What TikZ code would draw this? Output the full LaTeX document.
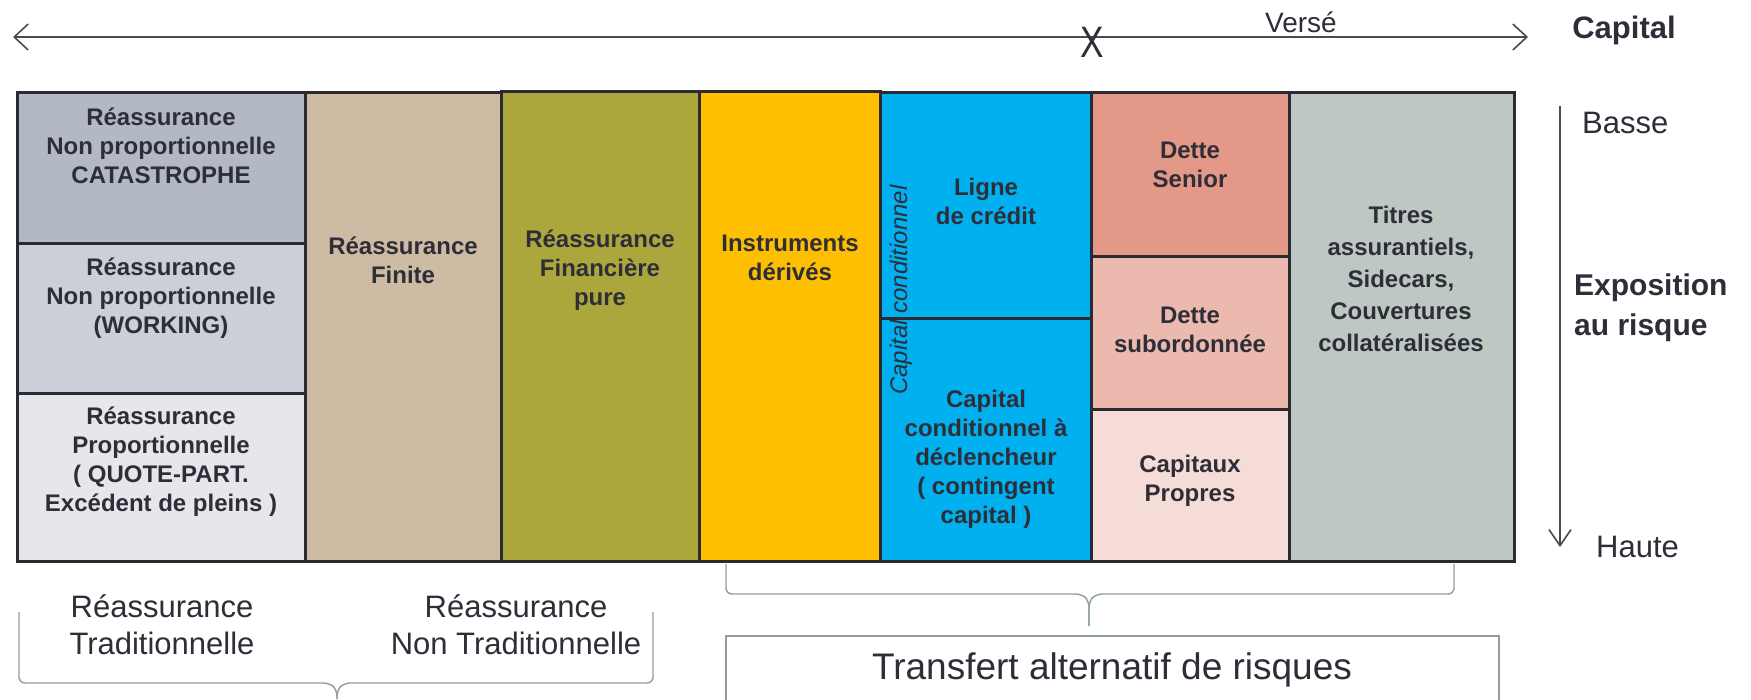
\documentclass[tikz,border=0pt]{standalone}
\usepackage{fontspec}
\setmainfont{Liberation Sans}
\usetikzlibrary{arrows.meta}
\definecolor{bordc}{HTML}{2A2A33}
\definecolor{txtc}{HTML}{2E2E38}
\definecolor{cA}{HTML}{B2B9C4}
\definecolor{cB}{HTML}{CBD0D8}
\definecolor{cC}{HTML}{E6E7EB}
\definecolor{cfin}{HTML}{CEBBA3}
\definecolor{coli}{HTML}{ABA73C}
\definecolor{cyel}{HTML}{FDBF00}
\definecolor{cblu}{HTML}{00B0EF}
\definecolor{cds}{HTML}{E49888}
\definecolor{csub}{HTML}{ECB9AE}
\definecolor{ccp}{HTML}{F6DCD6}
\definecolor{ctit}{HTML}{BEC8C2}
\definecolor{brc}{HTML}{8FA096}
\definecolor{arc}{HTML}{4A4A52}
\begin{document}
\begin{tikzpicture}[x=1pt,y=-1pt,
  cell/.style={draw=bordc, line width=3pt},
  lbl/.style={text=txtc, font=\bfseries\fontsize{24}{29}\selectfont, align=center, inner sep=0pt},
  plain/.style={text=txtc, font=\fontsize{31}{37}\selectfont, align=center, inner sep=0pt},
  side/.style={text=txtc, font=\fontsize{31}{37}\selectfont, align=left, inner sep=0pt, anchor=west},
  brace/.style={draw=brc, line width=1.4pt, rounded corners=6pt},
  axis/.style={draw=arc, line width=1.6pt}]
\useasboundingbox[fill=white] (0,0) rectangle (1751,699);

% cells
\path[cell, fill=cA] (17,92) rectangle (305,243);
\path[cell, fill=cB] (17,243) rectangle (305,393);
\path[cell, fill=cC] (17,393) rectangle (305,561);
\path[cell, fill=cfin] (305,92) rectangle (501,561);
\path[cell, fill=coli] (501,91) rectangle (699,561);
\path[cell, fill=cyel] (699,91) rectangle (880,561);
\path[cell, fill=cblu] (880,92) rectangle (1091,318);
\path[cell, fill=cblu] (880,318) rectangle (1091,561);
\path[cell, fill=cds] (1091,92) rectangle (1289,256);
\path[cell, fill=csub] (1091,256) rectangle (1289,409);
\path[cell, fill=ccp] (1091,409) rectangle (1289,561);
\path[cell, fill=ctit] (1289,92) rectangle (1514,561);

% cell texts
\node[lbl] (t1) at (161,146) {Réassurance\\Non proportionnelle\\CATASTROPHE};
\node[lbl] (t2) at (161,298) {Réassurance\\Non proportionnelle\\(WORKING)};
\node[lbl] (t3) at (161,462) {Réassurance\\Proportionnelle\\( QUOTE-PART.\\Excédent de pleins )};
\node[lbl] (t4) at (403,260) {Réassurance\\Finite};
\node[lbl] (t5) at (600,270) {Réassurance\\Financière\\pure};
\node[lbl] (t6) at (790,258) {Instruments\\dérivés};
\node[lbl] (t7) at (986,201) {Ligne\\de crédit};
\node[lbl] (t8) at (986,459) {Capital\\conditionnel à\\déclencheur\\( contingent\\capital )};
\node[text=txtc, font=\itshape\fontsize{24}{29}\selectfont, inner sep=0pt, rotate=90] (t9) at (901,290) {Capital conditionnel};
\node[lbl] (t10) at (1190,165) {Dette\\Senior};
\node[lbl] (t11) at (1190,330) {Dette\\subordonnée};
\node[lbl] (t12) at (1190,481) {Capitaux\\Propres};
\node[lbl, font=\bfseries\fontsize{24}{32}\selectfont] (t13) at (1401,279) {Titres\\assurantiels,\\Sidecars,\\Couvertures\\collatéralisées};

% top axis
\coordinate (aL) at (13,37);
\coordinate (aR) at (1528,37);
\draw[axis, {Straight Barb[length=14pt,width=26pt,line width=1.6pt]}-{Straight Barb[length=14pt,width=26pt,line width=1.6pt]}] (aL) -- (aR);
\node[text=txtc, font=\fontsize{44}{44}\selectfont, inner sep=0pt, xscale=0.8] (xm) at (1092,42) {X};
\node[text=txtc, font=\fontsize{28}{30}\selectfont, inner sep=0pt] (verse) at (1301,22) {Versé};
\node[text=txtc, font=\bfseries\fontsize{31}{34}\selectfont, inner sep=0pt] (capital) at (1624,30) {Capital};

% right axis
\coordinate (dT) at (1560,106);
\coordinate (dB) at (1560,547);
\draw[axis, -{Straight Barb[length=16pt,width=22pt,line width=1.6pt]}] (dT) -- (dB);
\node[side] (basse) at (1582,123) {Basse};
\node[side, font=\bfseries\fontsize{30}{40}\selectfont] (expo) at (1574,308) {Exposition\\au risque};
\node[side] (haute) at (1596,547) {Haute};

% bottom braces
\coordinate (lb1) at (19,612);
\coordinate (lb2) at (653,612);
\coordinate (lbt) at (337,699);
\draw[brace] (lb1) -- (19,683) -- (330,683) -- (337,690) -- (lbt);
\draw[brace] (lb2) -- (653,683) -- (344,683) -- (337,690) -- (lbt);
\node[plain] (trad) at (162,625) {Réassurance\\Traditionnelle};
\node[plain] (ntrad) at (516,625) {Réassurance\\Non Traditionnelle};

\coordinate (rb1) at (726,564);
\coordinate (rb2) at (1454,564);
\coordinate (rbt) at (1089,626);
\draw[brace] (rb1) -- (726,594) -- (1082,594) -- (1089,601) -- (rbt);
\draw[brace] (rb2) -- (1454,594) -- (1096,594) -- (1089,601) -- (rbt);

\draw[draw=brc, line width=1.4pt] (726,710) -- (726,636) -- (1499,636) -- (1499,710);
\node[text=txtc, font=\fontsize{37}{40}\selectfont, inner sep=0pt] (transfert) at (1112,670) {Transfert alternatif de risques};
\end{tikzpicture}
\end{document}
